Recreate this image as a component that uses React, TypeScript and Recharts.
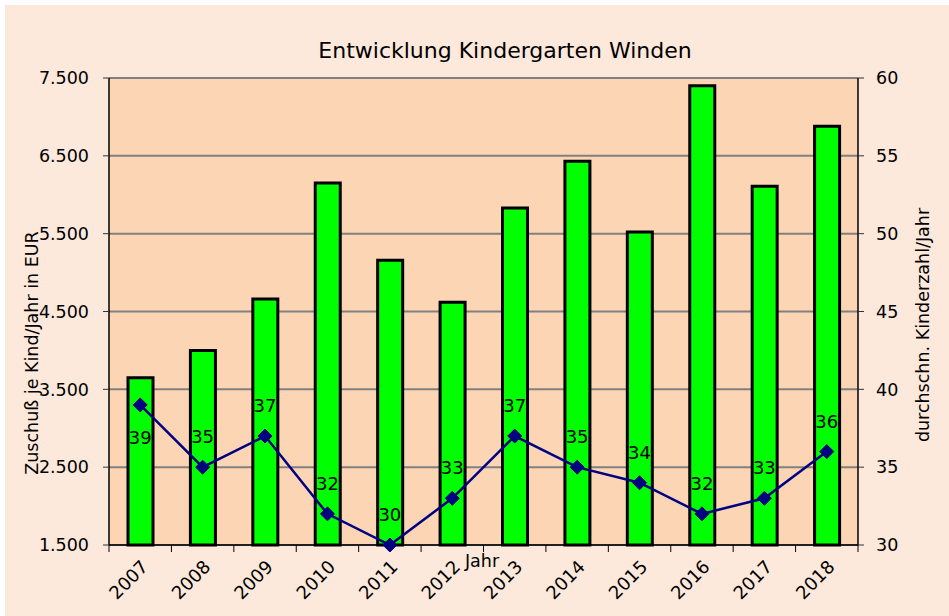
import { ComposedChart, Bar, Line, XAxis, YAxis, CartesianGrid, LabelList } from 'recharts';

const years = ['2007', '2008', '2009', '2010', '2011', '2012', '2013', '2014', '2015', '2016', '2017', '2018'];
const subsidy = [3650, 4000, 4660, 6150, 5160, 4620, 5830, 6430, 5520, 7400, 6110, 6880];
const children = [39, 35, 37, 32, 30, 33, 37, 35, 34, 32, 33, 36];
const leftTicks = [1500, 2500, 3500, 4500, 5500, 6500, 7500];
const rightTicks = [30, 35, 40, 45, 50, 55, 60];

const data = years.map((year, i) => ({ year, subsidy: subsidy[i], children: children[i] }));

const FONT = '"DejaVu Sans", Verdana, sans-serif';

const fmt = (n: number) => String(n).replace(/\B(?=(\d{3})+(?!\d))/g, '.');

const YearTick = (props: any) => {
  const { x, y, payload, index } = props;
  const half = payload && payload.offset ? payload.offset : 31.2;
  return (
    <g>
      <line x1={x - half} x2={x - half} y1={y} y2={y + 7} stroke="#000" strokeWidth={1} />
      {index === years.length - 1 && (
        <line x1={x + half} x2={x + half} y1={y} y2={y + 7} stroke="#000" strokeWidth={1} />
      )}
      <text
        x={x + 9}
        y={y + 23}
        textAnchor="end"
        fontSize={18}
        fontFamily={FONT}
        fill="#000"
        transform={`rotate(-45, ${x + 9}, ${y + 23})`}
      >
        {payload.value}
      </text>
    </g>
  );
};

const Diamond = (props: any) => {
  const { cx, cy, index } = props;
  const s = 7;
  return (
    <polygon
      key={`d-${index}`}
      points={`${cx},${cy - s} ${cx + s},${cy} ${cx},${cy + s} ${cx - s},${cy}`}
      fill="#000080"
      stroke="#000080"
    />
  );
};

const CountLabel = (props: any) => {
  const { x, y, value, index } = props;
  const dy = index === 0 ? 39 : -24;
  return (
    <text x={x} y={y + dy} textAnchor="middle" fontSize={18} fontFamily={FONT} fill="#000">
      {value}
    </text>
  );
};

export default function App() {
  return (
    <div style={{ position: 'absolute', left: 0, top: 0, width: 949, height: 616, background: '#fff' }}>
      <div style={{ position: 'absolute', left: 5, top: 5, right: 0, bottom: 0, background: '#FDE9DB' }} />
      <div style={{ position: 'absolute', left: 0, top: 0 }}>
        <ComposedChart width={949} height={616} data={data} margin={{ top: 78, right: 0, bottom: 0, left: 0 }}>
          <CartesianGrid vertical={false} stroke="#808080" strokeWidth={2} fill="#FCD5B5" yAxisId="left" />
          <XAxis
            dataKey="year"
            height={71}
            interval={0}
            tickLine={false}
            tickSize={0}
            tickMargin={0}
            axisLine={{ stroke: '#000', strokeWidth: 1.5 }}
            tick={<YearTick />}
          />
          <YAxis
            yAxisId="left"
            width={109}
            domain={[1500, 7500]}
            ticks={leftTicks}
            tickFormatter={fmt}
            tickSize={6}
            tickMargin={14}
            tickLine={{ stroke: '#333' }}
            axisLine={{ stroke: '#000', strokeWidth: 1.5 }}
            tick={{ fontSize: 17.5, fontFamily: FONT, fill: '#000' }}
          />
          <YAxis
            yAxisId="right"
            orientation="right"
            width={91}
            domain={[30, 60]}
            ticks={rightTicks}
            tickSize={6}
            tickMargin={12}
            tickLine={{ stroke: '#333' }}
            axisLine={{ stroke: '#000', strokeWidth: 1.5 }}
            tick={{ fontSize: 17.5, fontFamily: FONT, fill: '#000', textAnchor: 'start' }}
          />
          <Bar
            yAxisId="left"
            dataKey="subsidy"
            barSize={25}
            fill="#00FF00"
            stroke="#000"
            strokeWidth={3}
            isAnimationActive={false}
          />
          <Line
            yAxisId="right"
            dataKey="children"
            type="linear"
            stroke="#000080"
            strokeWidth={2.5}
            dot={<Diamond />}
            activeDot={false}
            isAnimationActive={false}
          >
            <LabelList dataKey="children" content={<CountLabel />} />
          </Line>
        </ComposedChart>
      </div>
      <svg width={949} height={616} style={{ position: 'absolute', left: 0, top: 0, pointerEvents: 'none' }}>
        <text x={505} y={58} textAnchor="middle" fontSize={22} fontFamily={FONT} fill="#000">
          Entwicklung Kindergarten Winden
        </text>
        <text x={482} y={567} textAnchor="middle" fontSize={17.5} fontFamily={FONT} fill="#000">
          Jahr
        </text>
        <text
          x={38}
          y={353}
          textAnchor="middle"
          fontSize={17.5}
          fontFamily={FONT}
          fill="#000"
          transform="rotate(-90, 38, 353)"
        >
          Zuschuß je Kind/Jahr in  EUR
        </text>
        <text
          x={929}
          y={325}
          textAnchor="middle"
          fontSize={17.5}
          fontFamily={FONT}
          fill="#000"
          transform="rotate(-90, 929, 325)"
        >
          durchschn. Kinderzahl/Jahr
        </text>
      </svg>
    </div>
  );
}
